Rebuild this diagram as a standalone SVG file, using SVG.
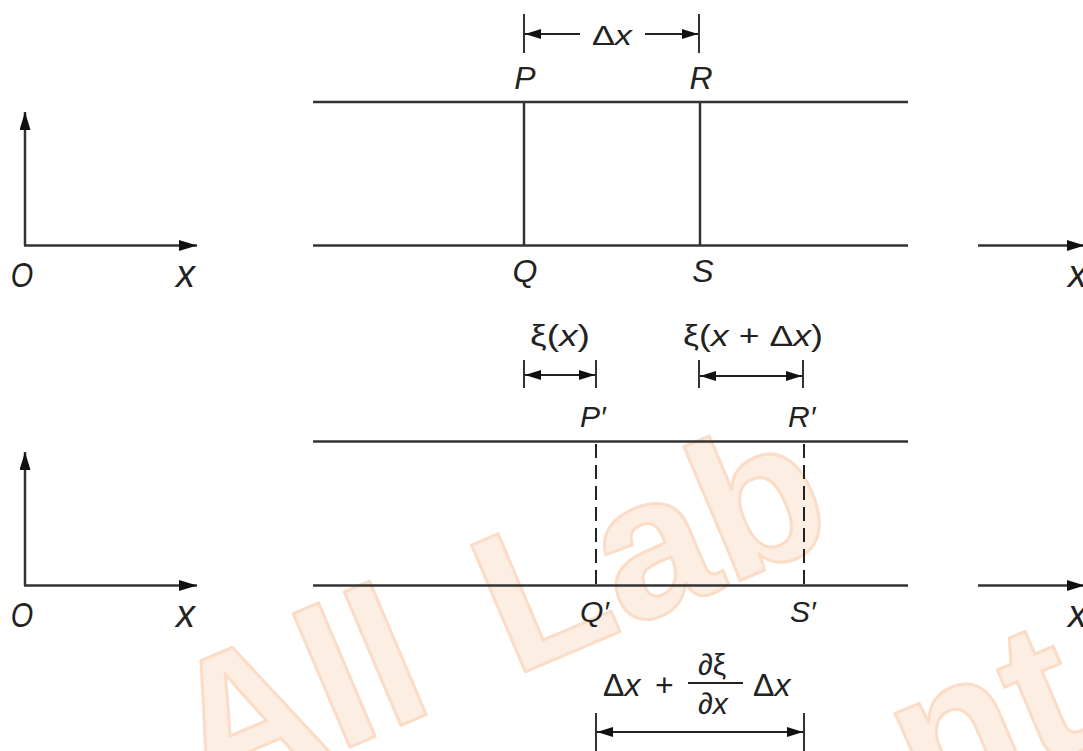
<svg xmlns="http://www.w3.org/2000/svg" width="1083" height="751" viewBox="0 0 1083 751">
<style>
.ln{stroke:#333;stroke-width:2.5;fill:none}
.dim{stroke:#222;stroke-width:2;fill:none}
.tk{stroke:#333;stroke-width:2;fill:none}
.dash{stroke:#222;stroke-width:2;fill:none;stroke-dasharray:14 7}
.t{font-family:"Liberation Sans",Arial,sans-serif;fill:#222}
.i{font-style:italic}
.wm{font-family:"Liberation Sans",Arial,sans-serif;font-weight:bold;font-size:200px;fill:#fdeee3;stroke:#fadcc7;stroke-width:3;stroke-linejoin:round}
</style>
<defs>
<marker id="ah" viewBox="0 0 16 10" refX="16" refY="5" markerWidth="16" markerHeight="10" markerUnits="userSpaceOnUse" orient="auto-start-reverse">
<path d="M0,0 L16,5 L0,10 z" fill="#111"/>
</marker>
<marker id="ax" viewBox="0 0 18 11" refX="18" refY="5.5" markerWidth="18" markerHeight="11" markerUnits="userSpaceOnUse" orient="auto">
<path d="M0,0 L18,5.5 L0,11 z" fill="#111"/>
</marker>
</defs>
<rect width="1083" height="751" fill="#fff"/>
<g id="watermark">
<text class="wm" transform="translate(204,809) rotate(-23)">All</text>
<text class="wm" transform="translate(513,677) rotate(-23)">Lab</text>
<text class="wm" transform="translate(924,816) rotate(-23)">nt</text>
</g>
<g id="connectors">
<line class="ln" x1="313" y1="102" x2="908" y2="102"/>
<line class="ln" x1="313" y1="245.5" x2="908" y2="245.5"/>
<line class="ln" x1="524" y1="102" x2="524" y2="245.5"/>
<line class="ln" x1="700" y1="102" x2="700" y2="245.5"/>
<line class="ln" x1="313" y1="441.5" x2="908" y2="441.5"/>
<line class="ln" x1="313" y1="585.5" x2="908" y2="585.5"/>
<line class="dash" x1="596" y1="444" x2="596" y2="585.5"/>
<line class="dash" x1="804" y1="444" x2="804" y2="585.5"/>
<line class="ln" x1="25" y1="245.5" x2="25" y2="112" marker-end="url(#ax)"/>
<line class="ln" x1="24" y1="245.5" x2="197" y2="245.5" marker-end="url(#ax)"/>
<line class="ln" x1="25" y1="585.5" x2="25" y2="452" marker-end="url(#ax)"/>
<line class="ln" x1="24" y1="585.5" x2="197" y2="585.5" marker-end="url(#ax)"/>
<line class="ln" x1="978" y1="245.5" x2="1085" y2="245.5" marker-end="url(#ax)"/>
<line class="ln" x1="978" y1="585.5" x2="1085" y2="585.5" marker-end="url(#ax)"/>
<line class="tk" x1="524" y1="14" x2="524" y2="53"/>
<line class="tk" x1="699" y1="14" x2="699" y2="53"/>
<line class="dim" x1="580" y1="34" x2="525" y2="34" marker-end="url(#ah)"/>
<line class="dim" x1="645" y1="34" x2="698" y2="34" marker-end="url(#ah)"/>
<line class="tk" x1="524" y1="360" x2="524" y2="388"/>
<line class="tk" x1="596" y1="360" x2="596" y2="388"/>
<line class="dim" x1="525" y1="375" x2="595" y2="375" marker-start="url(#ah)" marker-end="url(#ah)"/>
<line class="tk" x1="699" y1="360" x2="699" y2="388"/>
<line class="tk" x1="803" y1="360" x2="803" y2="388"/>
<line class="dim" x1="700" y1="376" x2="802" y2="376" marker-start="url(#ah)" marker-end="url(#ah)"/>
<line class="tk" x1="596" y1="713" x2="596" y2="751"/>
<line class="tk" x1="804" y1="713" x2="804" y2="751"/>
<line class="dim" x1="597" y1="732" x2="803" y2="732" marker-start="url(#ah)" marker-end="url(#ah)"/>
<line class="dim" x1="688" y1="683" x2="743" y2="683"/>
</g>
<g id="labels-band1">
<text class="t i" x="525" y="89" font-size="32" text-anchor="middle">P</text>
<text class="t i" x="701" y="89" font-size="32" text-anchor="middle">R</text>
<text class="t i" x="525" y="282" font-size="32" text-anchor="middle">Q</text>
<text class="t i" x="703" y="282" font-size="32" text-anchor="middle">S</text>
<text class="t" x="592" y="45" font-size="28" textLength="40" lengthAdjust="spacingAndGlyphs">Δ<tspan class="i">x</tspan></text>
</g>
<g id="labels-axes">
<text class="t i" transform="translate(22,287) scale(0.8,1)" font-size="36" text-anchor="middle">O</text>
<text class="t i" x="176" y="287" font-size="38">x</text>
<text class="t i" x="1068" y="287" font-size="38">x</text>
<text class="t i" transform="translate(22,627) scale(0.8,1)" font-size="36" text-anchor="middle">O</text>
<text class="t i" x="176" y="627" font-size="38">x</text>
<text class="t i" x="1068" y="627" font-size="38">x</text>
</g>
<g id="labels-band2">
<text class="t" x="530" y="346" font-size="30" textLength="60" lengthAdjust="spacingAndGlyphs">ξ(<tspan class="i">x</tspan>)</text>
<text class="t" x="683" y="346" font-size="30" textLength="140" lengthAdjust="spacingAndGlyphs">ξ(<tspan class="i">x</tspan> + Δ<tspan class="i">x</tspan>)</text>
<text class="t i" x="580" y="427" font-size="30">P′</text>
<text class="t i" x="788" y="427" font-size="30">R′</text>
<text class="t i" x="580" y="622" font-size="30">Q′</text>
<text class="t i" x="790" y="622" font-size="30">S′</text>
</g>
<g id="labels-formula">
<text class="t" x="603" y="696" font-size="32">Δ<tspan class="i">x</tspan><tspan x="655">+</tspan></text>
<text class="t" x="698" y="675" font-size="30">∂ξ</text>
<text class="t" x="698" y="714" font-size="30">∂<tspan class="i">x</tspan></text>
<text class="t" x="753" y="696" font-size="32">Δ<tspan class="i">x</tspan></text>
</g>
</svg>
